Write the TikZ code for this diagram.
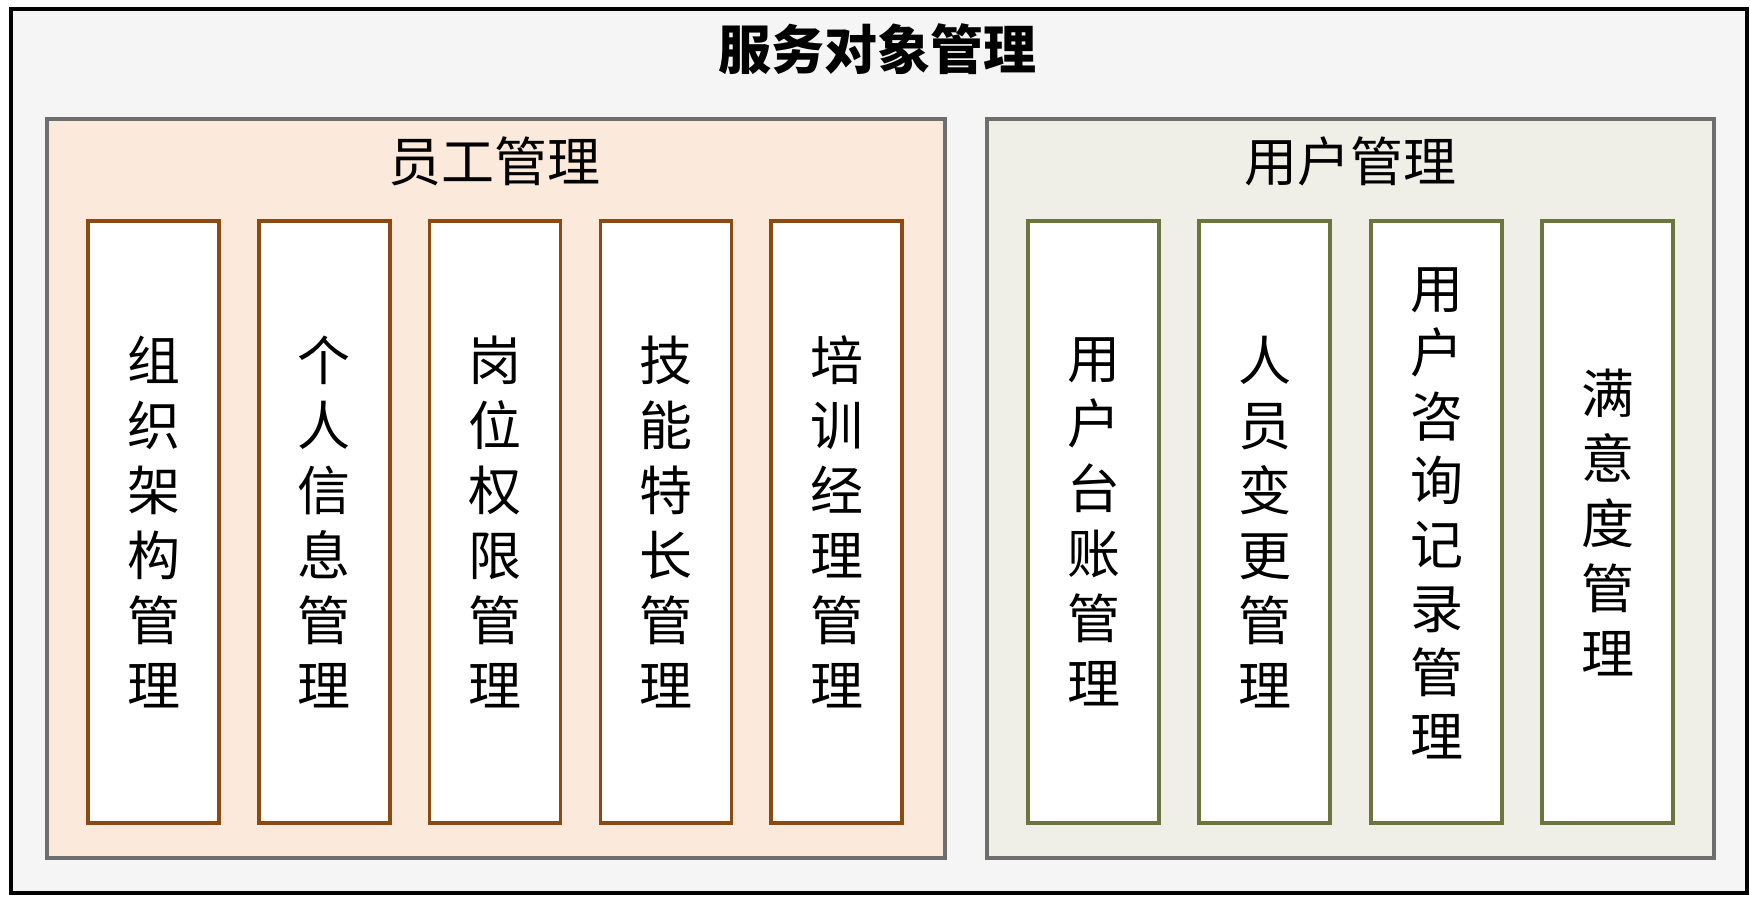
\documentclass[tikz,border=0pt]{standalone}
\usepackage{fontspec}
\newfontfamily\cjk{Noto Sans CJK SC}
\definecolor{outerfill}{HTML}{F5F5F5}
\definecolor{grpline}{HTML}{6E6E6E}
\definecolor{leftfill}{HTML}{FBEADB}
\definecolor{rightfill}{HTML}{EFEFE8}
\definecolor{brownline}{HTML}{8B4A14}
\definecolor{greenline}{HTML}{6B753E}
\tikzset{
  outerbox/.style={draw=black, fill=outerfill, line width=4pt, anchor=north west, inner sep=0pt},
  grpbox/.style={draw=grpline, line width=3.5pt, anchor=north west, inner sep=0pt},
  inbox/.style={draw=#1, fill=white, line width=3.5pt, minimum width=131pt, minimum height=602pt,
    inner sep=0pt, align=center, font=\cjk\fontsize{53pt}{65pt}\selectfont},
  titletext/.style={font=\cjk\bfseries\fontsize{53pt}{60pt}\selectfont, inner sep=0pt},
  grptext/.style={font=\cjk\fontsize{53pt}{60pt}\selectfont, inner sep=0pt}
}
\begin{document}
\begin{tikzpicture}[x=1pt,y=-1pt]
\useasboundingbox (0,0) rectangle (1750,898);
\node[outerbox, minimum width=1736pt, minimum height=884pt] (outer) at (9,7) {};
\node[titletext] (title) at (877,49) {服务对象管理};
% groups
\node[grpbox, fill=leftfill, minimum width=898pt, minimum height=739pt] (staff) at (45,117) {};
\node[grpbox, fill=rightfill, minimum width=727pt, minimum height=739pt] (users) at (985,117) {};
\node[grptext] (stafft) at (494,161) {员工管理};
\node[grptext] (userst) at (1350,161) {用户管理};
% staff boxes
\node[inbox=brownline] (s1) at (153.5,522) {组\\织\\架\\构\\管\\理};
\node[inbox=brownline] (s2) at (324.25,522) {个\\人\\信\\息\\管\\理};
\node[inbox=brownline] (s3) at (495,522) {岗\\位\\权\\限\\管\\理};
\node[inbox=brownline] (s4) at (665.75,522) {技\\能\\特\\长\\管\\理};
\node[inbox=brownline] (s5) at (836.5,522) {培\\训\\经\\理\\管\\理};
% user boxes
\node[inbox=greenline] (u1) at (1093.5,522) {用\\户\\台\\账\\管\\理};
\node[inbox=greenline] (u2) at (1264.5,522) {人\\员\\变\\更\\管\\理};
\node[inbox=greenline] (u3) at (1436.5,522) {};
\node[font=\cjk\fontsize{53pt}{64pt}\selectfont, align=center, inner sep=0pt] (u3t) at (1436.5,513) {用\\户\\咨\\询\\记\\录\\管\\理};
\node[inbox=greenline] (u4) at (1607.5,522) {满\\意\\度\\管\\理};
\end{tikzpicture}
\end{document}
